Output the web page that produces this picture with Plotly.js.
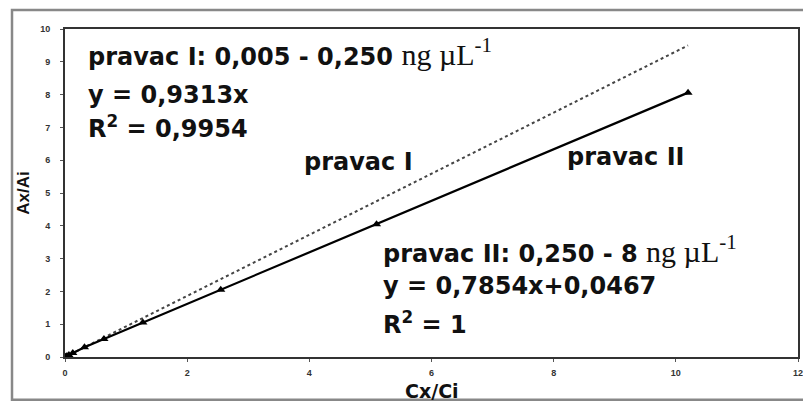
<!DOCTYPE html>
<html>
<head>
<meta charset="utf-8">
<script src="https://cdn.plot.ly/plotly-3.0.1.min.js"></script>
<style>
html,body{margin:0;padding:0;background:#fff;}
#chart{width:803px;height:408px;}
</style>
</head>
<body>
<div id="chart"></div>
<script>
// Measured points (Cx/Ci vs Ax/Ai), pravac I then pravac II
var pointsX = [0, 0.0064, 0.032, 0.064, 0.128, 0.319, 0.6375, 1.275, 2.55, 5.1, 10.2];
var pointsY = [0, 0.006, 0.03, 0.06, 0.12, 0.30, 0.55, 1.05, 2.05, 4.05, 8.06];
// Trend line of pravac I (dotted), y = 0.9313x
var trendX = [0, 10.2];
var trendY = [0, 9.50];
var xTicks = [0, 2, 4, 6, 8, 10, 12];
var yTicks = [0, 1, 2, 3, 4, 5, 6, 7, 8, 9, 10];
var xTitle = 'Cx/Ci';
var yTitle = 'Ax/Ai';
var labels = {
  topRange: 'pravac I: 0,005 - 0,250 ',
  topEq: 'y = 0,9313x',
  topR2: 'R<sup>2</sup> = 0,9954',
  botRange: 'pravac II: 0,250 - 8 ',
  botEq: 'y = 0,7854x+0,0467',
  botR2: 'R<sup>2</sup> = 1',
  lineI: 'pravac I',
  lineII: 'pravac II',
  unit: 'ng µL<sup>-1</sup>'
};

var bold = {family: 'DejaVu Sans', size: 24, color: '#111', weight: 'bold'};
var unitSpan = '<span style="font-family:\'Liberation Serif\';font-size:30px;font-weight:normal">' + labels.unit + '</span>';

function ann(text, x, y) {
  return {text: text, x: x, y: y, xref: 'x', yref: 'y', xanchor: 'left', yanchor: 'middle',
          showarrow: false, font: bold};
}

var traces = [
  {x: trendX, y: trendY, mode: 'lines', line: {color: '#444', width: 2, dash: 'dot'}, hoverinfo: 'skip'},
  {x: pointsX, y: pointsY, mode: 'lines+markers', line: {color: '#000', width: 2.2},
   marker: {symbol: 'triangle-up', size: 8, color: '#000'}}
];

var annotations = [
  ann('<b>' + labels.topRange + '</b>' + unitSpan, 0.34, 9.3),
  ann(labels.topEq, 0.34, 8.0),
  ann(labels.topR2, 0.34, 7.0),
  ann(labels.lineI, 3.88, 5.95),
  ann(labels.lineII, 8.18, 6.1),
  ann('<b>' + labels.botRange + '</b>' + unitSpan, 5.18, 3.28),
  ann(labels.botEq, 5.18, 2.15),
  ann(labels.botR2, 5.18, 1.05),
  {text: xTitle, xref: 'paper', yref: 'paper', x: 0.5, y: -0.104, xanchor: 'center', yanchor: 'middle',
   borderpad: 0, showarrow: false, font: {family: 'DejaVu Sans', size: 19, color: '#111', weight: 'bold'}}
];

var layout = {
  width: 803, height: 408,
  margin: {l: 65, r: 5, t: 29, b: 51},
  paper_bgcolor: '#fff', plot_bgcolor: '#fff',
  showlegend: false,
  xaxis: {range: [0, 12], tickvals: xTicks, ticktext: xTicks.map(String),
          showgrid: false, zeroline: false, showline: true, mirror: true,
          linecolor: '#333', linewidth: 2, ticks: 'outside', ticklen: 3, tickcolor: '#555',
          ticklabelstandoff: 3, ticklabeloverflow: 'allow',
          tickfont: {family: 'Liberation Sans', size: 9, color: '#333', weight: 'bold'}},
  yaxis: {range: [0, 10], tickvals: yTicks, ticktext: yTicks.map(String),
          showgrid: false, zeroline: false, showline: true, mirror: true,
          linecolor: '#333', linewidth: 2, ticks: 'outside', ticklen: 3, tickcolor: '#555',
          ticklabelstandoff: 8,
          tickfont: {family: 'Liberation Sans', size: 9, color: '#333', weight: 'bold'},
          title: {text: yTitle, font: {family: 'Liberation Sans', size: 17, color: '#111', weight: 'bold'}, standoff: 6}},
  shapes: [
    {type: 'rect', xref: 'paper', yref: 'paper', x0: -0.0723, x1: 1.02, y0: -0.13, y1: 1.058,
     line: {color: '#888', width: 2.5}, fillcolor: 'rgba(0,0,0,0)', layer: 'below'}
  ],
  annotations: annotations
};

Plotly.newPlot('chart', traces, layout, {displayModeBar: false, staticPlot: true});
</script>
</body>
</html>
